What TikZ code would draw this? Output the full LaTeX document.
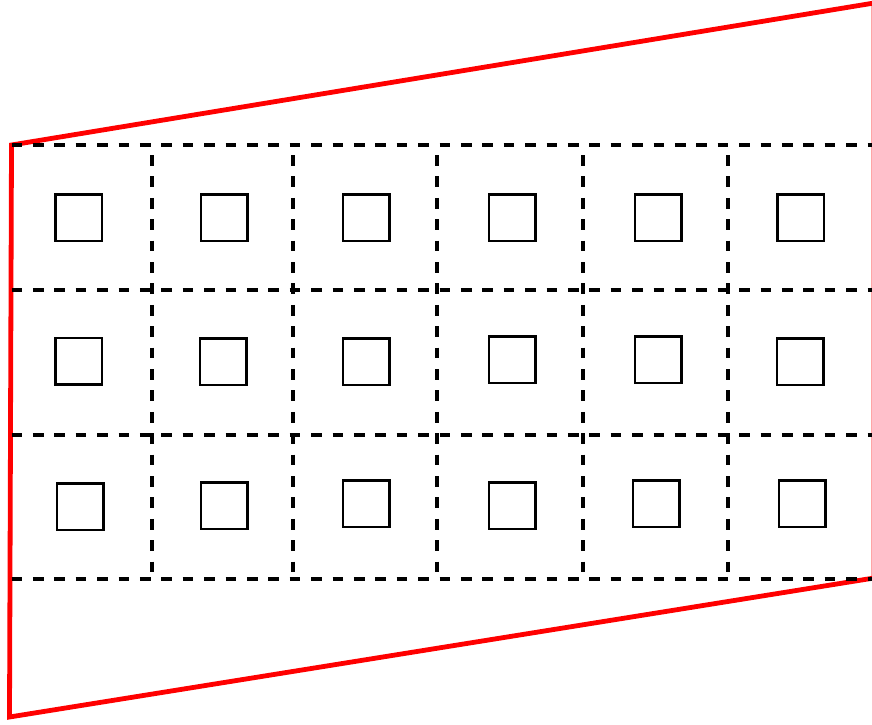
\documentclass[tikz,border=0pt]{standalone}
\begin{document}
\begin{tikzpicture}[x=1pt,y=-1pt,
  frame/.style={draw=red,line width=4.8pt,line join=miter},
  grid/.style={draw=black,line width=4.6pt,dash pattern=on 10.7pt off 10.7pt},
  cell/.style={draw=black,line width=2.5pt,minimum width=46.5pt,minimum height=46.5pt,inner sep=0pt,fill=none}]
\useasboundingbox (0,0) rectangle (872,724);
% red quadrilateral
\coordinate (tl) at (11.5,145);
\coordinate (tr) at (874,3);
\coordinate (br) at (874,578);
\coordinate (bl) at (9.5,717);
\draw[frame] (tl) -- (tr) -- (br) -- (bl) -- cycle;
% dashed grid
\foreach \yy in {145,290,435,579} {
  \draw[grid] (11.5,\yy) -- (872,\yy);
}
\foreach \xx in {152,293,437,583,728} {
  \draw[grid,dash phase=-10] (\xx,145) -- (\xx,579);
}
% small squares
\node[cell] (s11) at (78.5,217.5) {};
\node[cell] (s12) at (224,217.5) {};
\node[cell] (s13) at (366,217.5) {};
\node[cell] (s14) at (512,217.5) {};
\node[cell] (s15) at (658,217.5) {};
\node[cell] (s16) at (800.5,217.5) {};
\node[cell] (s21) at (78.5,361) {};
\node[cell] (s22) at (223,361.5) {};
\node[cell] (s23) at (366,361.5) {};
\node[cell] (s24) at (512,359.5) {};
\node[cell] (s25) at (658,359.5) {};
\node[cell] (s26) at (800,361.5) {};
\node[cell] (s31) at (80,506.5) {};
\node[cell] (s32) at (224,505.5) {};
\node[cell] (s33) at (366,503.5) {};
\node[cell] (s34) at (512,505.5) {};
\node[cell] (s35) at (656,503.5) {};
\node[cell] (s36) at (802,503.5) {};
\end{tikzpicture}
\end{document}
